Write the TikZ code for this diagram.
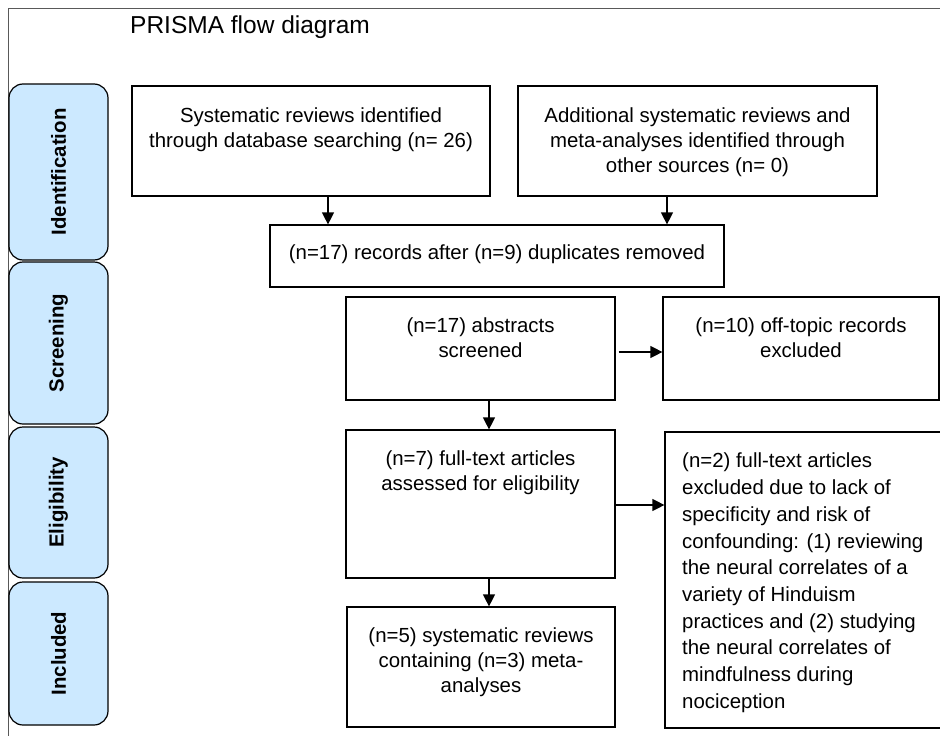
\documentclass[tikz,border=0pt]{standalone}
\usepackage{fontspec}
\setmainfont{Liberation Sans}
\usetikzlibrary{arrows.meta,calc}
\definecolor{phaseblue}{RGB}{204,233,255}
\begin{document}
\begin{tikzpicture}[x=1pt,y=-1pt,
        box/.style={draw,line width=1.2pt,inner sep=0pt},
        phase/.style={draw,line width=1.2pt,fill=phaseblue,rounded corners=14pt,rotate=90,
            minimum height=99pt,font=\fontsize{20.4}{24}\selectfont\bfseries},
        txt/.style={inner sep=0pt,anchor=north,align=center,font=\fontsize{20.4}{25}\selectfont},
        arr/.style={line width=1.2pt,-{Triangle[length=12pt,width=12pt]}}]
    \useasboundingbox (0,0) rectangle (940,736);
    \clip (0,0) rectangle (940,736);
    % frame and title
    \draw[black!65,line width=1pt] (8,736) -- (8,8) -- (940,8);
    \node[anchor=base west,inner sep=0pt,font=\fontsize{24.5}{29}\selectfont] (title) at (130,33) {PRISMA flow diagram};
    % phases
    \node[phase,minimum width=176pt] (idph) at (58.5,172) {Identification};
    \node[phase,minimum width=162pt] (scph) at (58.5,343) {Screening};
    \node[phase,minimum width=151pt] (elph) at (58.5,502.5) {Eligibility};
    \node[phase,minimum width=143pt] (inph) at (58.5,653.5) {Included};
    % boxes
    \node[box,minimum width=358pt,minimum height=110pt] (srch) at (311,141) {};
    \node[box,minimum width=359pt,minimum height=110pt] (othr) at (697.5,141) {};
    \node[box,minimum width=454pt,minimum height=62pt] (dup) at (497,256) {};
    \node[box,minimum width=269pt,minimum height=103pt] (abst) at (480.5,348.5) {};
    \node[box,minimum width=276pt,minimum height=103pt] (offt) at (801,348.5) {};
    \node[box,minimum width=269pt,minimum height=148pt] (full) at (480.5,504) {};
    \node[box,minimum width=300pt,minimum height=296pt] (excl) at (815,580) {};
    \node[box,minimum width=268pt,minimum height=120pt] (incl) at (481,667) {};
    % texts
    \node[txt] (srch-t) at ($(srch.north)+(0,22)$) {Systematic reviews identified\\through database searching (n= 26)};
    \node[txt] (othr-t) at ($(othr.north)+(0,22)$) {Additional systematic reviews and\\meta-analyses identified through\\other sources (n= 0)};
    \node[txt,anchor=center] (dup-t) at ($(dup)+(0,-2)$) {(n=17) records after (n=9) duplicates removed};
    \node[txt] (abst-t) at ($(abst.north)+(0,21)$) {(n=17) abstracts\\screened};
    \node[txt] (offt-t) at ($(offt.north)+(0,21)$) {(n=10) off-topic records\\excluded};
    \node[txt] (full-t) at ($(full.north)+(0,21)$) {(n=7) full-text articles\\assessed for eligibility};
    \node[txt] (incl-t) at ($(incl.north)+(0,21)$) {(n=5) systematic reviews\\containing (n=3) meta-\\analyses};
    \node[txt,anchor=north west,align=left,font=\fontsize{20.4}{26.7}\selectfont] (excl-t) at (682,453)
        {(n=2) full-text articles\\excluded due to lack of\\specificity and risk of\\confounding: (1) reviewing\\the neural correlates of a\\variety of Hinduism\\practices and (2) studying\\the neural correlates of\\mindfulness during\\nociception};
    % arrows
    \coordinate (c1) at (328,0);
    \coordinate (c2) at (667,0);
    \coordinate (c3) at (489,0);
    \coordinate (r1) at (0,352);
    \coordinate (r2) at (0,505);
    \draw[arr] (srch.south -| c1) -- (dup.north -| c1);
    \draw[arr] (othr.south -| c2) -- (dup.north -| c2);
    \draw[arr] ($(abst.east |- r1)+(3,0)$) -- (offt.west |- r1);
    \draw[arr] (abst.south -| c3) -- (full.north -| c3);
    \draw[arr] (full.east |- r2) -- (excl.west |- r2);
    \draw[arr] (full.south -| c3) -- (incl.north -| c3);
\end{tikzpicture}
\end{document}
